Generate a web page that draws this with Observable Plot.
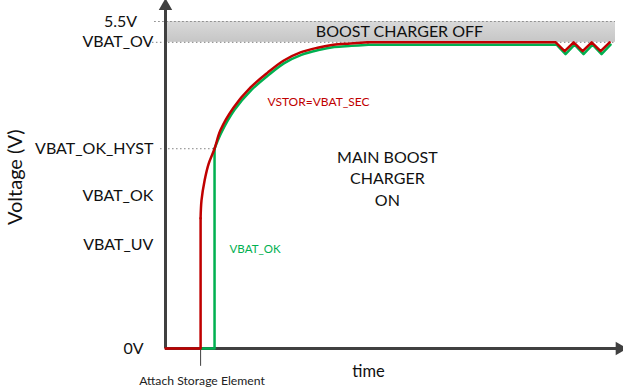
<!DOCTYPE html>
<html>
<head>
<meta charset="utf-8">
<script src="https://cdn.jsdelivr.net/npm/d3@7"></script>
<script src="https://cdn.jsdelivr.net/npm/@observablehq/plot@0.6"></script>
<style>
  html, body { margin: 0; padding: 0; background: #fff; }
</style>
</head>
<body>
<div id="chart"></div>
<script>
// ---- Data (voltage levels in V, time in arbitrary units) ----
const levelNames = ["0V", "VBAT_UV", "VBAT_OK", "VBAT_OK_HYST", "VBAT_OV", "5.5V"];
const levelVolts = [0, 1.75, 2.56, 3.36, 5.15, 5.5];

const attachTime = 7.8;     // storage element attached
const okTime = 10.9;        // VBAT_OK asserted

// VSTOR (red) rise: initial jump then charging curve
const redJumpTime = [0, 7.8, 7.8];
const redJumpVolt = [0, 0, 2.19];
const redCurveTime = [7.8, 8.0, 8.7, 9.6, 10.9, 12.2, 15.1, 18.9, 22.7, 26.2, 30.0, 33.8, 37.3, 41.1, 44.9];
const redCurveVolt = [2.19, 2.49, 2.83, 3.11, 3.36, 3.67, 4.05, 4.39, 4.64, 4.84, 4.98, 5.06, 5.11, 5.13, 5.15];
const redFlatTime = [44.9, 86.7, 88.7, 90.7, 92.7, 94.7, 96.7, 98.7];
const redFlatVolt = [5.15, 5.15, 5.0, 5.15, 5.0, 5.15, 5.0, 5.15];

// VBAT_OK (green)
const greenStepTime = [7.8, 10.9, 10.9];
const greenStepVolt = [0, 0, 3.36];
const greenCurveTime = [10.9, 12.4, 15.3, 19.1, 22.9, 26.4, 30.2, 34.0, 37.5, 41.3, 45.1];
const greenCurveVolt = [3.36, 3.63, 4.01, 4.35, 4.60, 4.80, 4.94, 5.02, 5.07, 5.09, 5.11];
const greenFlatTime = [45.1, 86.9, 88.9, 90.9, 92.9, 94.9, 96.9, 98.9];
const greenFlatVolt = [5.11, 5.11, 4.95, 5.11, 4.95, 5.11, 4.95, 5.11];

const pts = (t, v) => t.map((d, i) => ({t: d, v: v[i]}));

const RED = "#c00000";
const GREEN = "#00b050";
const AXIS = "#404040";
const FONT = "Lato, 'Noto Sans', sans-serif";

const levels = levelVolts.map((v, i) => ({v, name: levelNames[i]}));
const midLevels = levels.filter(d => d.name !== "0V" && d.name !== "5.5V");

const plot = Plot.plot({
  width: 623,
  height: 389,
  marginLeft: 165,
  marginRight: 8,
  marginTop: 21,
  marginBottom: 41,
  x: {domain: [0, 100], axis: null},
  y: {domain: [0, 5.5], axis: null},
  style: {fontFamily: FONT, background: "#fff", overflow: "visible"},
  marks: [
    // boost charger off band
    Plot.rect([0], {x1: 0.45, x2: 100, y1: levelVolts[4], y2: levelVolts[5], fill: "url(#bandGrad)"}),
    // dotted level guides
    Plot.ruleY([levelVolts[5]], {x1: -2.4, x2: 100, stroke: "#7f7f7f", strokeWidth: 1, strokeDasharray: "1.5,2.5"}),
    Plot.ruleY([levelVolts[4]], {x1: -2.9, x2: 100, stroke: "#7f7f7f", strokeWidth: 1, strokeDasharray: "1.5,2.5"}),
    Plot.ruleY([levelVolts[3]], {x1: -1.1, x2: okTime, stroke: "#7f7f7f", strokeWidth: 1, strokeDasharray: "1.5,2.5"}),
    // axes
    Plot.ruleX([0], {y1: 0, y2: 5.72, stroke: AXIS, strokeWidth: 3}),
    Plot.ruleY([0], {x1: 0, x2: 100.6, stroke: AXIS, strokeWidth: 3}),
    Plot.dot([{t: 0, v: 5.76}], {x: "t", y: "v", symbol: "triangle", r: 5, fill: AXIS, stroke: null}),
    Plot.dot([{t: 100.9, v: 0}], {x: "t", y: "v", symbol: "triangle", r: 5, fill: AXIS, stroke: null, rotate: 90}),
    // attach tick
    Plot.ruleX([attachTime], {y1: 0, y2: -0.3, stroke: AXIS, strokeWidth: 1}),
    // green series
    Plot.line(pts(greenStepTime, greenStepVolt), {x: "t", y: "v", stroke: GREEN, strokeWidth: 2.5}),
    Plot.line(pts(greenCurveTime, greenCurveVolt), {x: "t", y: "v", stroke: GREEN, strokeWidth: 2.5, curve: "catmull-rom"}),
    Plot.line(pts(greenFlatTime, greenFlatVolt), {x: "t", y: "v", stroke: GREEN, strokeWidth: 2.5}),
    // red series
    Plot.line(pts(redJumpTime, redJumpVolt), {x: "t", y: "v", stroke: RED, strokeWidth: 2.5}),
    Plot.line(pts(redCurveTime, redCurveVolt), {x: "t", y: "v", stroke: RED, strokeWidth: 2.5, curve: "catmull-rom"}),
    Plot.line(pts(redFlatTime, redFlatVolt), {x: "t", y: "v", stroke: RED, strokeWidth: 2.5}),
    // level labels
    Plot.text(midLevels, {x: -2.7, y: "v", text: "name", textAnchor: "end", fontSize: 16, fill: "#111"}),
    Plot.text([levels[0]], {x: -7.1, y: "v", text: "name", textAnchor: "middle", fontSize: 16, fill: "#111"}),
    Plot.text([levels[5]], {x: -10.0, y: "v", text: "name", textAnchor: "middle", fontSize: 16, fill: "#111"}),
    // axis titles
    Plot.text(["Voltage (V)"], {x: -33.3, y: 2.88, text: d => d, rotate: -90, fontSize: 20, fill: "#111"}),
    Plot.text(["time"], {x: 45.1, y: -0.39, text: d => d, fontSize: 16.5, fill: "#111"}),
    Plot.text(["Attach Storage Element"], {x: attachTime + 0.3, y: -0.54, text: d => d, fontSize: 12.2, fill: "#222"}),
    // annotations
    Plot.text(["BOOST CHARGER OFF"], {x: 52.0, y: 5.32, text: d => d, fontSize: 16, fill: "#111"}),
    Plot.text(["MAIN BOOST\nCHARGER\nON"], {x: 49.3, y: 2.88, text: d => d, fontSize: 16, lineHeight: 1.35, fill: "#111"}),
    Plot.text(["VSTOR=VBAT_SEC"], {x: 34.0, y: 4.15, text: d => d, fontSize: 12, fill: RED}),
    Plot.text(["VBAT_OK"], {x: 19.9, y: 1.67, text: d => d, fontSize: 11.5, fill: GREEN})
  ]
});

// gradient for the band
const ns = "http://www.w3.org/2000/svg";
const defs = document.createElementNS(ns, "defs");
defs.innerHTML = `<linearGradient id="bandGrad" x1="0" y1="0" x2="0" y2="1">
  <stop offset="0%" stop-color="#d9d9d9"/><stop offset="100%" stop-color="#c6c6c6"/></linearGradient>`;
plot.insertBefore(defs, plot.firstChild);

document.getElementById("chart").appendChild(plot);
</script>
</body>
</html>
